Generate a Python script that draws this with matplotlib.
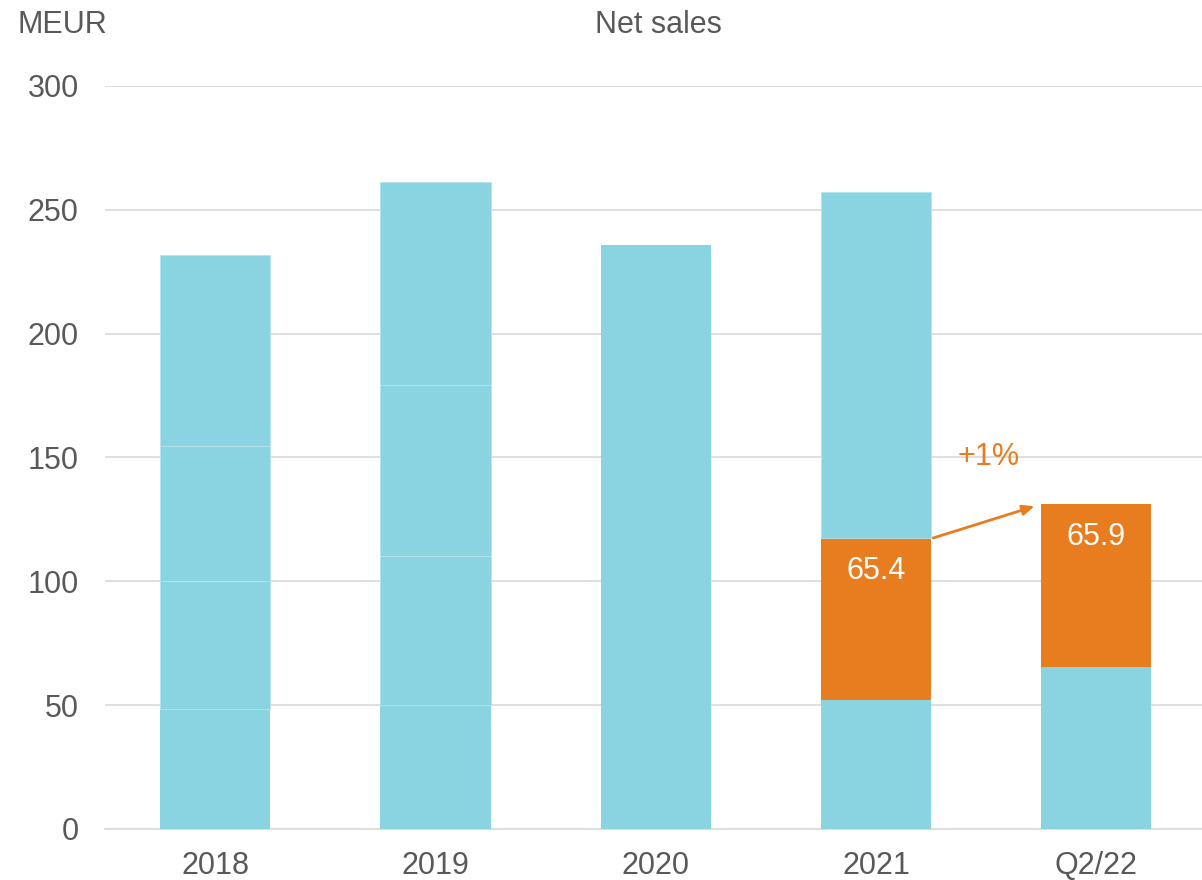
import numpy as np
import matplotlib

matplotlib.use("Agg")
import matplotlib.pyplot as plt

plt.rcParams["font.family"] = ["Liberation Sans", "DejaVu Sans"]

# Net sales by period, MEUR, stacked by quarter (cumulative splits where shown)
periods = ["2018", "2019", "2020", "2021", "Q2/22"]
q1 = [48.5, 50.0, 235.8, 52.1, 65.4]
q2 = [51.5, 60.2, 0.0, 65.4, 65.9]
q3 = [54.5, 69.0, 0.0, 139.7, 0.0]
q4 = [77.3, 82.0, 0.0, 0.0, 0.0]
highlight = [False, False, False, True, True]  # Q2 segment shown in orange
growth_label = "+1%"

blue = "#8AD4E1"
orange = "#E77D1F"
text_gray = "#595959"
grid_gray = "#D9D9D9"

fig = plt.figure(figsize=(12.02, 8.8), dpi=100)
ax = fig.add_axes([0.0874, 0.058, 0.9126, 0.8443])

x = np.arange(len(periods))
width = 0.5
bottom = np.zeros(len(periods))
for seg_idx, seg in enumerate([q1, q2, q3, q4]):
    seg = np.array(seg)
    for i in range(len(periods)):
        if seg[i] <= 0:
            continue
        is_orange = seg_idx == 1 and highlight[i]
        edge = "none" if (is_orange or seg_idx == 0) else "#B5E3EC"
        ax.bar(x[i], seg[i], width, bottom=bottom[i],
               color=orange if is_orange else blue, edgecolor=edge,
               linewidth=0.6, zorder=3)
    bottom += seg

# value labels inside the orange segments
q1_arr = np.array(q1)
q2_arr = np.array(q2)
for i in range(len(periods)):
    if highlight[i]:
        ax.text(x[i], q1_arr[i] + q2_arr[i] - 13.5, f"{q2[i]:.1f}",
                ha="center", va="center", color="white", fontsize=22, zorder=5)

# growth arrow between the two Q2 segments
y_from = q1_arr[3] + q2_arr[3]
y_to = q1_arr[4] + q2_arr[4]
ax.annotate("", xy=(x[4] - width / 2 - 0.03, y_to - 1), xytext=(x[3] + width / 2 + 0.01, y_from),
            arrowprops=dict(arrowstyle="-|>,head_length=0.7,head_width=0.3",
                            color=orange, lw=2, shrinkA=0, shrinkB=0), zorder=5)
ax.text((x[3] + x[4]) / 2 + 0.01, 150, growth_label, ha="center", va="center",
        color=orange, fontsize=22)

ax.set_xlim(-0.5, 4.48)
ax.set_ylim(0, 300)
ax.set_yticks(np.arange(0, 301, 50))
ax.set_xticks(x)
ax.set_xticklabels(periods)
ax.tick_params(axis="both", length=0, labelsize=22, labelcolor=text_gray)
ax.tick_params(axis="y", pad=19)
ax.tick_params(axis="x", pad=16)
ax.grid(axis="y", color=grid_gray, linewidth=1.2, zorder=0)
for side in ["top", "right", "left"]:
    ax.spines[side].set_visible(False)
ax.spines["bottom"].set_color(grid_gray)
ax.spines["bottom"].set_linewidth(1.2)

fig.text(18 / 1202, 1 - 25 / 880, "MEUR", ha="left", va="center",
         fontsize=22, color=text_gray)
fig.text(658 / 1202, 1 - 25 / 880, "Net sales", ha="center", va="center",
         fontsize=22, color=text_gray)

fig.savefig("out.png", dpi=100)
